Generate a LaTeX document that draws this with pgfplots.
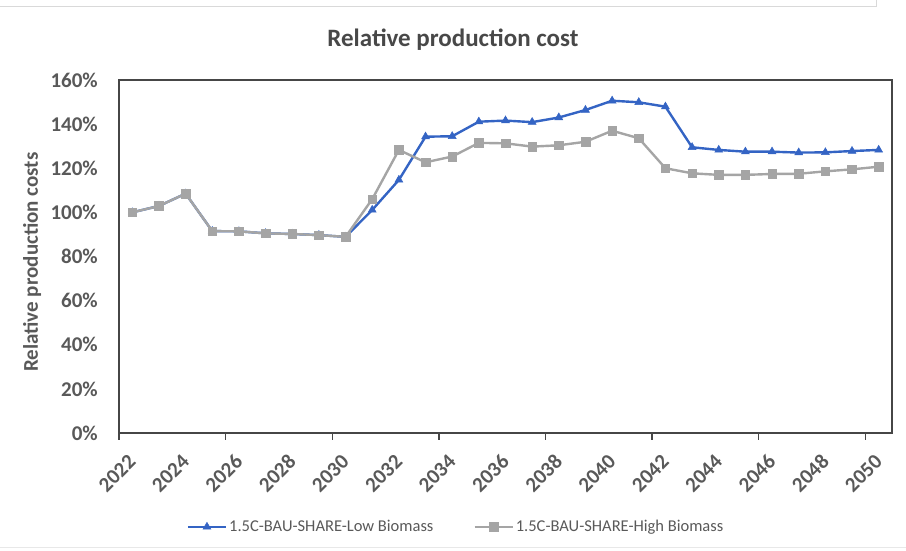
\documentclass[border=0pt]{standalone}
\usepackage{pgfplots}
\pgfplotsset{compat=1.18}
\usepackage{fontspec}
\setmainfont{Carlito}

\definecolor{lowbio}{RGB}{52,100,196}
\definecolor{highbio}{RGB}{165,165,165}
\definecolor{axisgray}{RGB}{70,70,70}
\definecolor{textgray}{RGB}{89,89,89}
\definecolor{titlegray}{RGB}{72,72,72}
\definecolor{framegray}{RGB}{217,217,217}

\begin{document}
\begin{tikzpicture}[x=1pt,y=1pt]
  \path[use as bounding box] (0,0) rectangle (906,551);
  % light frame lines of the surrounding sheet
  \draw[framegray, line width=1pt] (0,544) -- (876,544) -- (876,551);
  \draw[framegray!60, line width=1pt] (0,3) -- (906,3);

  \begin{axis}[
    at={(119pt,118pt)}, anchor=south west,
    scale only axis, width=773pt, height=353pt,
    xmin=-0.5, xmax=28.5, ymin=0, ymax=160,
    axis line style={axisgray, line width=1.6pt},
    xtick={0,2,...,28},
    xticklabels={2022,2024,2026,2028,2030,2032,2034,2036,2038,2040,2042,2044,2046,2048,2050},
    extra x ticks={-0.5,3.5,...,27.5},
    extra x tick labels={},
    extra x tick style={major tick length=7pt, tick align=outside,
      tick style={axisgray, line width=1.4pt}},
    ytick={0,20,...,160},
    yticklabels={0\%,20\%,40\%,60\%,80\%,100\%,120\%,140\%,160\%},
    major tick length=0pt,
    tick pos=left,
    /pgf/number format/assume math mode=true,
    tick label style={font=\bfseries\fontsize{21}{21}\selectfont, text=textgray},
    % shifts below are in the rotated frame: (-17.7,-17.7) moves 25pt straight down
    xticklabel style={rotate=45, anchor=east, inner sep=0pt, xshift=-17.7pt, yshift=-17.7pt},
    yticklabel style={anchor=east, inner sep=0pt, xshift=-21pt},
    title={Relative production cost},
    title style={at={(axis description cs:0.432,1.097)}, anchor=center,
      font=\bfseries\fontsize{25}{25}\selectfont, text=titlegray},
    ylabel={Relative production costs},
    ylabel style={at={(axis description cs:-0.1125,0.484)}, anchor=center, rotate=0,
      font=\bfseries\fontsize{21}{21}\selectfont, text=textgray},
    legend style={at={(axis description cs:0.436,-0.266)}, anchor=center,
      draw=none, fill=none, legend columns=2,
      font=\fontsize{16.5}{16.5}\selectfont, text=textgray,
      /tikz/every even column/.append style={column sep=38pt},
      inner sep=0pt},
    legend image code/.code={
      \draw[mark repeat=2, mark phase=2] plot coordinates {(0pt,0pt) (19pt,0pt) (38pt,0pt)};},
    clip=false,
  ]
    % 1.5C-BAU-SHARE-Low Biomass, 2022-2050
    \addplot[lowbio, line width=2.4pt, mark=triangle*, mark size=4.6pt,
      mark options={solid, fill=lowbio, line width=0.5pt}] coordinates {
      (0,100.0) (1,102.9) (2,108.5) (3,91.5) (4,91.4) (5,90.5) (6,90.2) (7,89.7)
      (8,88.9) (9,101.1) (10,114.7) (11,134.3) (12,134.5) (13,141.1) (14,141.6)
      (15,140.9) (16,143.0) (17,146.4) (18,150.6) (19,149.9) (20,147.9) (21,129.5)
      (22,128.3) (23,127.5) (24,127.5) (25,127.1) (26,127.2) (27,127.8) (28,128.3)};
    \addlegendentry{1.5C-BAU-SHARE-Low Biomass}
    % 1.5C-BAU-SHARE-High Biomass, 2022-2050
    \addplot[highbio, line width=2.4pt, mark=square*, mark size=4.3pt,
      mark options={solid, fill=highbio, line width=0.5pt}] coordinates {
      (0,100.0) (1,102.9) (2,108.5) (3,91.5) (4,91.4) (5,90.5) (6,90.2) (7,89.7)
      (8,88.9) (9,106.0) (10,128.3) (11,122.7) (12,125.3) (13,131.5) (14,131.3)
      (15,129.8) (16,130.4) (17,132.0) (18,137.0) (19,133.6) (20,120.0) (21,117.7)
      (22,117.0) (23,117.0) (24,117.4) (25,117.5) (26,118.6) (27,119.5) (28,120.7)};
    \addlegendentry{1.5C-BAU-SHARE-High Biomass}
  \end{axis}
\end{tikzpicture}
\end{document}
